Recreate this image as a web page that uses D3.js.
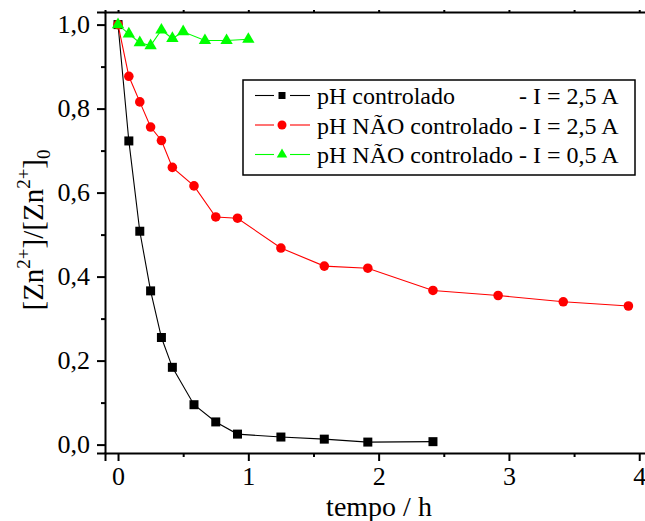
<!DOCTYPE html>
<html>
<head>
<meta charset="utf-8">
<script src="https://cdn.jsdelivr.net/npm/d3@7/dist/d3.min.js"></script>
<style>
  html, body { margin: 0; padding: 0; background: #fff; }
  svg { display: block; }
  svg text { font-family: "Liberation Serif", "Times New Roman", "DejaVu Serif", serif; fill: #000; }
</style>
</head>
<body>
<svg id="chart" width="645" height="521"></svg>
<script>
// Time (h) and normalised Zn2+ concentration for each run
const timeCtrl   = [0, 0.083, 0.167, 0.25, 0.333, 0.417, 0.583, 0.75, 0.917, 1.25, 1.583, 1.917, 2.417];
const ratioCtrl  = [1.0, 0.723, 0.508, 0.366, 0.255, 0.184, 0.095, 0.054, 0.025, 0.018, 0.013, 0.006, 0.007];

const timeFree25  = [0, 0.083, 0.167, 0.25, 0.333, 0.417, 0.583, 0.75, 0.917, 1.25, 1.583, 1.917, 2.417, 2.917, 3.417, 3.917];
const ratioFree25 = [1.0, 0.877, 0.816, 0.756, 0.724, 0.66, 0.616, 0.542, 0.539, 0.468, 0.425, 0.42, 0.367, 0.355, 0.34, 0.33];

const timeFree05  = [0, 0.083, 0.167, 0.25, 0.333, 0.417, 0.5, 0.667, 0.833, 1.0];
const ratioFree05 = [1.0, 0.978, 0.957, 0.95, 0.987, 0.967, 0.983, 0.962, 0.962, 0.965];

const xTicks = [0, 1, 2, 3, 4];
const xMinorTicks = [0.5, 1.5, 2.5, 3.5];
const yTicks = [0, 0.2, 0.4, 0.6, 0.8, 1.0];
const yMinorTicks = [0.1, 0.3, 0.5, 0.7, 0.9];

const legendLabels = ["pH controlado", "pH NÃO controlado - I = 2,5 A", "pH NÃO controlado - I = 0,5 A"];
const legendSuffix = "- I = 2,5 A";

const svg = d3.select("#chart");
const plotLeft = 105, plotTop = 12, plotBottom = 453;
const x = d3.scaleLinear().domain([-0.1, 4.1]).range([plotLeft, plotLeft + 4.2 * 130.3]);
const y = d3.scaleLinear().domain([-0.02, 1.03]).range([plotBottom, plotTop]);
const fmt = d => d3.format(".1f")(d).replace(".", ",");

const axisG = svg.append("g");

// bottom axis
const gx = axisG.append("g").attr("transform", `translate(0,${plotBottom})`)
  .call(d3.axisBottom(x).tickValues(xTicks).tickSize(8).tickPadding(6).tickFormat(d3.format("d")));
axisG.append("g").attr("transform", `translate(0,${plotBottom})`)
  .call(d3.axisBottom(x).tickValues(xMinorTicks).tickSize(4).tickFormat(""))
  .select(".domain").remove();
// top axis
axisG.append("g").attr("transform", `translate(0,${plotTop})`)
  .call(d3.axisTop(x).tickValues(xTicks.concat(xMinorTicks)).tickSize(2).tickFormat(""));
// left axis
const gy = axisG.append("g").attr("transform", `translate(${plotLeft},0)`)
  .call(d3.axisLeft(y).tickValues(yTicks).tickSize(8).tickPadding(7).tickFormat(fmt));
axisG.append("g").attr("transform", `translate(${plotLeft},0)`)
  .call(d3.axisLeft(y).tickValues(yMinorTicks).tickSize(4).tickFormat(""))
  .select(".domain").remove();

axisG.selectAll("g").attr("font-family", null);
axisG.selectAll(".domain").attr("stroke", "#000").attr("stroke-width", 2);
axisG.selectAll(".tick line").attr("stroke", "#000").attr("stroke-width", 2);
axisG.selectAll(".tick text").attr("font-size", 26);
gx.selectAll(".tick text").attr("dy", "0.71em");

// axis titles
svg.append("text").attr("x", 379).attr("y", 516).attr("text-anchor", "middle")
  .attr("font-size", 28).text("tempo / h");

const yl = svg.append("text").attr("transform", "translate(43,230) rotate(-90)")
  .attr("text-anchor", "middle").attr("font-size", 29);
yl.append("tspan").text("[Zn");
yl.append("tspan").attr("dy", -13).attr("font-size", 19).text("2+");
yl.append("tspan").attr("dy", 13).text("]/[Zn");
yl.append("tspan").attr("dy", -13).attr("font-size", 19).text("2+");
yl.append("tspan").attr("dy", 13).text("]");
yl.append("tspan").attr("dy", 7).attr("font-size", 19).text("0");

// series
const series = [
  { t: timeCtrl, v: ratioCtrl, color: "#000", symbol: d3.symbolSquare, size: 81, lsize: 49 },
  { t: timeFree25, v: ratioFree25, color: "#ff0000", symbol: d3.symbolCircle, size: 72, lsize: 64 },
  { t: timeFree05, v: ratioFree05, color: "#00ff00", symbol: d3.symbolTriangle, size: 66, lsize: 48 }
];
const line = d3.line().x(d => x(d[0])).y(d => y(d[1]));

series.forEach(s => {
  const pts = s.t.map((t, i) => [t, s.v[i]]);
  const g = svg.append("g");
  g.append("path").attr("d", line(pts)).attr("fill", "none")
    .attr("stroke", s.color).attr("stroke-width", 1.1);
  g.selectAll("path.pt").data(pts).join("path").attr("class", "pt")
    .attr("transform", d => `translate(${x(d[0])},${y(d[1])})`)
    .attr("d", d3.symbol().type(s.symbol).size(s.size)())
    .attr("fill", s.color);
});

// legend
const lg = svg.append("g");
lg.append("rect").attr("x", 243).attr("y", 80).attr("width", 392).attr("height", 95)
  .attr("fill", "#fff").attr("stroke", "#000").attr("stroke-width", 1.5);
const rowY = [95.5, 125, 154.5];
const textNodes = [];
series.forEach((s, i) => {
  const cy = rowY[i];
  lg.append("line").attr("x1", 255).attr("x2", 274).attr("y1", cy).attr("y2", cy)
    .attr("stroke", s.color).attr("stroke-width", 1.1);
  lg.append("line").attr("x1", 290).attr("x2", 310).attr("y1", cy).attr("y2", cy)
    .attr("stroke", s.color).attr("stroke-width", 1.1);
  lg.append("path").attr("transform", `translate(282,${cy})`)
    .attr("d", d3.symbol().type(s.symbol).size(s.lsize)()).attr("fill", s.color);
  textNodes.push(lg.append("text").attr("x", 317).attr("y", cy + 8.5)
    .attr("font-size", 24).text(legendLabels[i]));
});
const rowEnd = 317 + textNodes[1].node().getComputedTextLength();
lg.append("text").attr("x", rowEnd).attr("y", rowY[0] + 8.5).attr("text-anchor", "end")
  .attr("font-size", 24).text(legendSuffix);
</script>
</body>
</html>
